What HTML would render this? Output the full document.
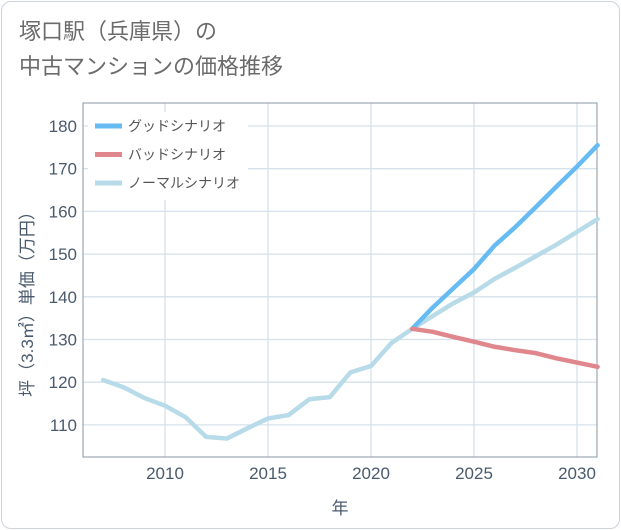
<!DOCTYPE html>
<html><head><meta charset="utf-8">
<style>
html,body{margin:0;padding:0;background:#fff;}
body{width:621px;height:530px;overflow:hidden;font-family:"Liberation Sans","Noto Sans CJK JP",sans-serif;}
#card{position:absolute;left:1px;top:1px;width:617px;height:526px;border:1px solid #ccd3da;border-radius:10px;}
#title{position:absolute;left:19px;top:14px;font-size:22px;line-height:35px;color:#6b6b6b;font-family:"Liberation Sans","Noto Sans CJK JP",sans-serif;}
</style></head>
<body>
<div id="card"></div>
<div id="title">塚口駅（兵庫県）の<br>中古マンションの価格推移</div>
<svg id="chart" width="621" height="530" style="position:absolute;left:0;top:0"></svg>
<script>
const years=[2007,2008,2009,2010,2011,2012,2013,2014,2015,2016,2017,2018,2019,2020,2021,2022,2023,2024,2025,2026,2027,2028,2029,2030,2031];
const normalValues=[120.5,118.8,116.3,114.5,111.8,107.2,106.8,109.2,111.5,112.3,116,116.5,122.3,123.8,129.2,132.5,135.5,138.5,141,144.2,146.8,149.5,152.2,155.2,158.2];
const forecastYears=[2022,2023,2024,2025,2026,2027,2028,2029,2030,2031];
const goodValues=[132.5,137.5,142,146.5,152,156.3,161,165.8,170.5,175.5];
const badValues=[132.5,131.8,130.6,129.5,128.3,127.5,126.8,125.6,124.6,123.6];
const xTicks=[2010,2015,2020,2025,2030];
const yTicks=[110,120,130,140,150,160,170,180];
const legendLabels=["グッドシナリオ","バッドシナリオ","ノーマルシナリオ"];
const colors=["#66bbf3","#e0868d","#b7dbe8"];

const NS="http://www.w3.org/2000/svg";
const svg=document.getElementById('chart');
const L=83,R=597,T=103,B=457;
const x=v=>165+(v-2010)*20.6;
const y=v=>126+(180-v)*4.27;
function mk(tag,attrs,parent){const e=document.createElementNS(NS,tag);for(const k in attrs)e.setAttribute(k,attrs[k]);(parent||svg).appendChild(e);return e;}

const grid=mk('g',{});


xTicks.forEach(t=>{
  const l=mk('line',{x1:x(t),x2:x(t),y1:T,y2:B,stroke:'#d5e1ec','stroke-width':1.3},grid);
  
  
  const tx=mk('text',{x:x(t),y:479,'text-anchor':'middle','font-size':17,fill:'#4a5a6e'});
  tx.textContent=t;
  
  
});
yTicks.forEach(t=>{
  const l=mk('line',{x1:L,x2:R,y1:y(t),y2:y(t),stroke:'#d5e1ec','stroke-width':1.3},grid);
  
  
  const tx=mk('text',{x:77,y:y(t)+6,'text-anchor':'end','font-size':17,fill:'#4a5a6e'});
  tx.textContent=t;
  
  
});
const frame=mk('rect',{x:L,y:T,width:R-L,height:B-T,fill:'none',stroke:'#8a96a3','stroke-width':1});



function line(xs,vs,c,name){
  const p=mk('polyline',{points:xs.map((yr,i)=>x(yr)+','+y(vs[i])).join(' '),fill:'none',stroke:c,'stroke-width':4.5,'stroke-linejoin':'round','stroke-linecap':'round'});
  
  
}
line(years,normalValues,colors[2],'normal-scenario-line');
line(forecastYears,goodValues,colors[0],'good-scenario-line');
line(forecastYears,badValues,colors[1],'bad-scenario-line');

const lg=mk('g',{});


mk('rect',{x:88,y:112,width:160,height:88,fill:'#fff'},lg);
legendLabels.forEach((lab,i)=>{
  const yy=126+i*28.5;
  const sw=mk('line',{x1:95,x2:122,y1:yy,y2:yy,stroke:colors[i],'stroke-width':5},lg);
  
  
  const t=mk('text',{x:128,y:yy+5,'font-size':14,fill:'#555'},lg);
  t.textContent=lab;
  
  
});

const xt=mk('text',{x:340,y:514,'text-anchor':'middle','font-size':17,fill:'#4a5a6e'});
xt.textContent='年';


const yt=mk('text',{x:0,y:0,'text-anchor':'middle','font-size':17,fill:'#4a5a6e',transform:'translate(33,300) rotate(-90)'});
yt.textContent='坪（3.3㎡）単価（万円）';


</script>
</body></html>
